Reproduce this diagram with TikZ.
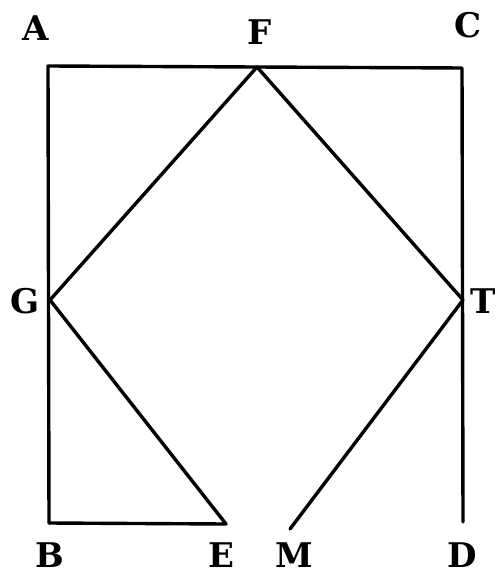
\documentclass[tikz,border=0pt]{standalone}
\usepackage{fontspec}
\newfontfamily\labfont{DejaVu Serif}
\begin{document}
\begin{tikzpicture}[x=1pt,y=-1pt,
  edge/.style={line width=3.4pt,line cap=round,line join=round},
  lab/.style={font=\labfont\fontsize{34}{38}\selectfont\bfseries,inner sep=0pt,text depth=0pt,anchor=base}]
\useasboundingbox (0,0) rectangle (497,577);
\coordinate (A) at (48,66);
\coordinate (F) at (257,67);
\coordinate (C) at (462,68);
\coordinate (G) at (50,300);
\coordinate (T) at (463,300);
\coordinate (B) at (49,523);
\coordinate (E) at (226,524);
\coordinate (M) at (290,529);
\coordinate (D) at (463,522);
\draw[edge] (B) -- (A) -- (C) -- (D);
\draw[edge] (B) -- (E) -- (G) -- (F) -- (T) -- (M);
\node[lab] (lA) at (36,41) {A};
\node[lab] (lF) at (260,45) {F};
\node[lab] (lC) at (468,38) {C};
\node[lab] (lG) at (25,313) {G};
\node[lab] (lT) at (483,313) {T};
\node[lab] (lB) at (50,567) {B};
\node[lab] (lE) at (221,567) {E};
\node[lab] (lM) at (294,567) {M};
\node[lab] (lD) at (462,567) {D};
\end{tikzpicture}
\end{document}
